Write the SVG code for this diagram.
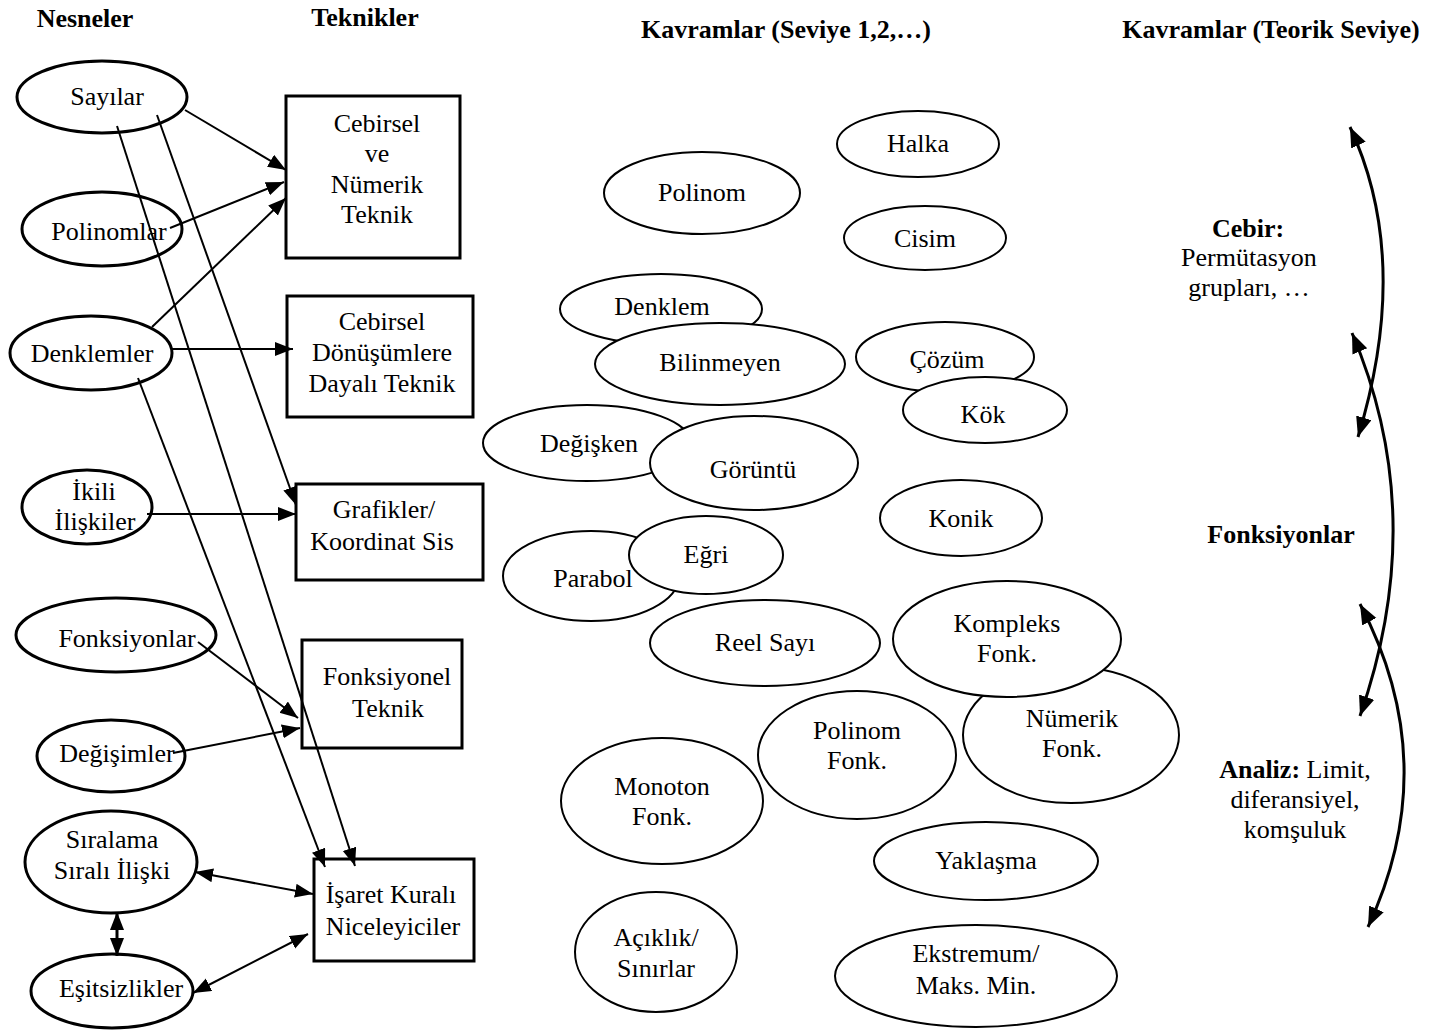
<svg xmlns="http://www.w3.org/2000/svg" width="1434" height="1031" viewBox="0 0 1434 1031">
<defs>
<style>
text{font-family:"Liberation Serif","Times New Roman",serif;font-size:26px;fill:#000;text-anchor:middle}
.h{font-weight:bold}
.b{font-weight:bold}
.lo{fill:#fff;stroke:#000;stroke-width:3}
.mo{fill:#fff;stroke:#000;stroke-width:2}
.bx{fill:#fff;stroke:#000;stroke-width:3}
.c{fill:none;stroke:#000;stroke-width:2}
.ct{fill:none;stroke:#000;stroke-width:3}
</style>
<marker id="ah" markerUnits="userSpaceOnUse" markerWidth="19" markerHeight="15" refX="18" refY="7" orient="auto-start-reverse" viewBox="0 0 19 15">
<path d="M0,0 L18,7 L0,14 z" fill="#000"/>
</marker>
<marker id="ahc" markerUnits="userSpaceOnUse" markerWidth="21" markerHeight="17" refX="20" refY="8" orient="auto-start-reverse" viewBox="0 0 21 17">
<path d="M0,0 L20,8 L0,16 z" fill="#000"/>
</marker>
<clipPath id="clipIK"><rect x="315" y="860" width="156" height="100"/></clipPath>
</defs>
<rect width="1434" height="1031" fill="#fff"/>

<g id="headers">
<text class="h" x="85" y="27">Nesneler</text>
<text class="h" x="365" y="26">Teknikler</text>
<text class="h" x="786" y="38">Kavramlar (Seviye 1,2,…)</text>
<text class="h" x="1271" y="38">Kavramlar (Teorik Seviye)</text>
</g>

<g id="objects">
<g id="n-sayilar"><ellipse class="lo" cx="102" cy="97" rx="85" ry="36"/><text x="107" y="105">Sayılar</text></g>
<g id="n-polinomlar"><ellipse class="lo" cx="102" cy="229" rx="80" ry="37"/><text x="109" y="240">Polinomlar</text></g>
<g id="n-denklemler"><ellipse class="lo" cx="91" cy="353" rx="81" ry="37"/><text x="92" y="362">Denklemler</text></g>
<g id="n-ikili"><ellipse class="lo" cx="87" cy="507" rx="65" ry="37"/><text x="94" y="500">İkili</text><text x="95" y="530">İlişkiler</text></g>
<g id="n-fonksiyonlar"><ellipse class="lo" cx="116" cy="635" rx="100" ry="37"/><text x="127" y="647">Fonksiyonlar</text></g>
<g id="n-degisimler"><ellipse class="lo" cx="111" cy="756" rx="74" ry="36"/><text x="117" y="762">Değişimler</text></g>
<g id="n-siralama"><ellipse class="lo" cx="111" cy="862" rx="86" ry="51"/><text x="112" y="848">Sıralama</text><text x="112" y="879">Sıralı İlişki</text></g>
<g id="n-esitsizlikler"><ellipse class="lo" cx="112" cy="991" rx="81" ry="37"/><text x="121" y="997">Eşitsizlikler</text></g>
</g>

<g id="techniques">
<g id="t-cebirsel"><rect class="bx" x="286" y="96" width="174" height="162"/><text x="377" y="132">Cebirsel</text><text x="377" y="162">ve</text><text x="377" y="193">Nümerik</text><text x="377" y="223">Teknik</text></g>
<g id="t-donusum"><rect class="bx" x="287" y="296" width="186" height="121"/><text x="382" y="330">Cebirsel</text><text x="382" y="361">Dönüşümlere</text><text x="382" y="392">Dayalı Teknik</text></g>
<g id="t-grafik"><rect class="bx" x="296" y="484" width="187" height="96"/><text x="384" y="518">Grafikler/</text><text x="382" y="550">Koordinat Sis</text></g>
<g id="t-fonksiyonel"><rect class="bx" x="302" y="640" width="160" height="108"/><text x="387" y="685">Fonksiyonel</text><text x="388" y="717">Teknik</text></g>
<g id="t-isaret"><rect class="bx" x="314" y="859" width="160" height="102"/><g clip-path="url(#clipIK)"><text x="391" y="903">İşaret Kuralı</text><text x="393" y="935">Niceleyiciler</text></g></g>
</g>

<g id="concepts">
<g id="k-halka"><ellipse class="mo" cx="918" cy="144" rx="81" ry="33"/><text x="918" y="152">Halka</text></g>
<g id="k-polinom"><ellipse class="mo" cx="702" cy="193" rx="98" ry="41"/><text x="702" y="201">Polinom</text></g>
<g id="k-cisim"><ellipse class="mo" cx="925" cy="238" rx="81" ry="32"/><text x="925" y="247">Cisim</text></g>
<g id="k-denklem"><ellipse class="mo" cx="661" cy="309" rx="101" ry="35"/><text x="662" y="315">Denklem</text></g>
<g id="k-bilinmeyen"><ellipse class="mo" cx="720" cy="364" rx="125" ry="41"/><text x="720" y="371">Bilinmeyen</text></g>
<g id="k-degisken"><ellipse class="mo" cx="587" cy="443" rx="104" ry="38"/><text x="589" y="452">Değişken</text></g>
<g id="k-goruntu"><ellipse class="mo" cx="754" cy="463" rx="104" ry="47"/><text x="753" y="478">Görüntü</text></g>
<g id="k-parabol"><ellipse class="mo" cx="591" cy="576" rx="88" ry="45"/><text x="593" y="587">Parabol</text></g>
<g id="k-egri"><ellipse class="mo" cx="706" cy="555" rx="77" ry="39"/><text x="706" y="563">Eğri</text></g>
<g id="k-cozum"><ellipse class="mo" cx="945" cy="357" rx="89" ry="35"/><text x="947" y="368">Çözüm</text></g>
<g id="k-kok"><ellipse class="mo" cx="985" cy="410" rx="82" ry="33"/><text x="983" y="423">Kök</text></g>
<g id="k-konik"><ellipse class="mo" cx="961" cy="518" rx="81" ry="38"/><text x="961" y="527">Konik</text></g>
<g id="k-reel"><ellipse class="mo" cx="765" cy="643" rx="115" ry="43"/><text x="765" y="651">Reel Sayı</text></g>
<g id="k-numerik"><ellipse class="mo" cx="1071" cy="735" rx="108" ry="68"/><text x="1072" y="727">Nümerik</text><text x="1072" y="757">Fonk.</text></g>
<g id="k-kompleks"><ellipse class="mo" cx="1007" cy="639" rx="114" ry="58"/><text x="1007" y="632">Kompleks</text><text x="1007" y="662">Fonk.</text></g>
<g id="k-polinomfonk"><ellipse class="mo" cx="857" cy="755" rx="99" ry="64"/><text x="857" y="739">Polinom</text><text x="857" y="769">Fonk.</text></g>
<g id="k-monoton"><ellipse class="mo" cx="662" cy="801" rx="101" ry="63"/><text x="662" y="795">Monoton</text><text x="662" y="825">Fonk.</text></g>
<g id="k-yaklasma"><ellipse class="mo" cx="986" cy="861" rx="112" ry="39"/><text x="986" y="869">Yaklaşma</text></g>
<g id="k-aciklik"><ellipse class="mo" cx="656" cy="952" rx="81" ry="60"/><text x="656" y="946">Açıklık/</text><text x="656" y="977">Sınırlar</text></g>
<g id="k-ekstremum"><ellipse class="mo" cx="976" cy="976" rx="141" ry="51"/><text x="976" y="962">Ekstremum/</text><text x="976" y="994">Maks. Min.</text></g>
</g>

<g id="theory">
<g id="th-cebir"><text class="b" x="1248" y="237">Cebir:</text><text x="1249" y="266">Permütasyon</text><text x="1249" y="296">grupları, …</text></g>
<g id="th-fonk"><text class="b" x="1281" y="543">Fonksiyonlar</text></g>
<g id="th-analiz"><text x="1295" y="778"><tspan font-weight="bold">Analiz:</tspan> Limit,</text><text x="1295" y="808">diferansiyel,</text><text x="1295" y="838">komşuluk</text></g>
</g>

<g id="connectors">
<line class="c" x1="185" y1="110" x2="286" y2="170" marker-end="url(#ah)"/>
<line class="c" x1="170" y1="228" x2="284" y2="182" marker-end="url(#ah)"/>
<line class="c" x1="152" y1="327" x2="286" y2="198" marker-end="url(#ah)"/>
<line class="c" x1="172" y1="349" x2="293" y2="349" marker-end="url(#ah)"/>
<line class="c" x1="138" y1="378" x2="325" y2="867" marker-end="url(#ah)"/>
<line class="c" x1="117" y1="126" x2="355" y2="866" marker-end="url(#ah)"/>
<line class="c" x1="157" y1="115" x2="296" y2="505" marker-end="url(#ah)"/>
<line class="c" x1="147" y1="514" x2="296" y2="514" marker-end="url(#ah)"/>
<line class="c" x1="198" y1="642" x2="298" y2="718" marker-end="url(#ah)"/>
<line class="c" x1="173" y1="753" x2="300" y2="728" marker-end="url(#ah)"/>
<line class="c" x1="195" y1="872" x2="313" y2="894" marker-start="url(#ah)" marker-end="url(#ah)"/>
<line class="ct" x1="117" y1="912" x2="117" y2="956" marker-start="url(#ah)" marker-end="url(#ah)"/>
<line class="c" x1="193" y1="993" x2="308" y2="934" marker-start="url(#ah)" marker-end="url(#ah)"/>
<path class="ct" d="M1350,127 Q1412,260 1358,437" marker-start="url(#ahc)" marker-end="url(#ahc)"/>
<path class="ct" d="M1352,333 Q1430,516 1360,716" marker-start="url(#ahc)" marker-end="url(#ahc)"/>
<path class="ct" d="M1360,604 Q1444,764 1368,927" marker-start="url(#ahc)" marker-end="url(#ahc)"/>
</g>
</svg>
